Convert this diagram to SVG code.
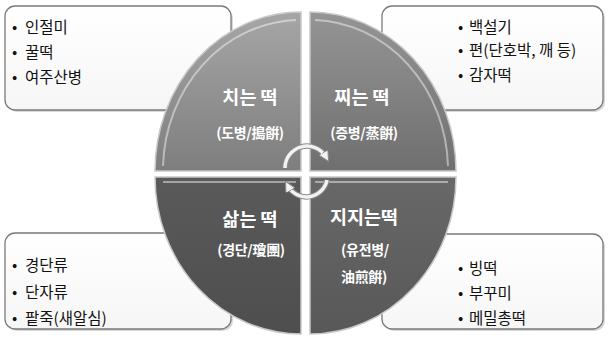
<svg xmlns="http://www.w3.org/2000/svg" width="608" height="341" viewBox="0 0 608 341">
<defs>
<style>
.box{fill:url(#boxg);stroke:#7a7a7a;stroke-width:1.3}
.shadow{fill:#d8d8d8}
.li{font-family:"Noto Sans CJK KR","Noto Sans",sans-serif;font-size:15.5px;fill:#111}
.hd{font-family:"Noto Sans CJK KR","Noto Sans CJK TC",sans-serif;font-size:18.5px;font-weight:bold;fill:#fff;text-anchor:middle}
.sb{font-family:"Noto Sans CJK KR","Noto Sans CJK TC",sans-serif;font-size:14px;font-weight:bold;fill:#fff;text-anchor:middle;letter-spacing:-0.3px}
.q{stroke:#c8c8c8;stroke-width:1.5}
.hl{fill:none;stroke:#fff;stroke-opacity:0.45;stroke-width:2}
.arc{fill:none;stroke:#f2f2f2;stroke-width:3.5}
.arcO{fill:none;stroke:#8a8a8a;stroke-width:5.5}
</style>
<linearGradient id="boxg" x1="0" y1="0" x2="0" y2="1"><stop offset="0" stop-color="#ffffff"/><stop offset="1" stop-color="#f6f6f6"/></linearGradient>
<linearGradient id="gTL" x1="0" y1="0" x2="0" y2="1"><stop offset="0" stop-color="#a6a6a6"/><stop offset="1" stop-color="#7e7e7e"/></linearGradient>
<linearGradient id="gTR" x1="0" y1="0" x2="0" y2="1"><stop offset="0" stop-color="#959595"/><stop offset="1" stop-color="#6f6f6f"/></linearGradient>
<linearGradient id="gBL" x1="0" y1="0" x2="0" y2="1"><stop offset="0" stop-color="#5a5a5a"/><stop offset="1" stop-color="#4e4e4e"/></linearGradient>
<linearGradient id="gBR" x1="0" y1="0" x2="0" y2="1"><stop offset="0" stop-color="#686868"/><stop offset="1" stop-color="#585858"/></linearGradient>
<marker id="ah" viewBox="0 0 10 10" refX="5" refY="5" markerWidth="3" markerHeight="3" orient="auto"><path d="M0,0 L10,5 L0,10 Z" fill="#f2f2f2" stroke="#8a8a8a" stroke-width="1"/></marker>
</defs>
<rect width="608" height="341" fill="#fff"/>

<g id="box-tl">
<rect class="shadow" x="7" y="8" width="226" height="104" rx="10"/>
<rect class="box" x="5" y="6" width="226" height="104" rx="10"/>
<text class="li" y="33"><tspan x="12">•</tspan><tspan x="25">인절미</tspan></text>
<text class="li" y="58"><tspan x="12">•</tspan><tspan x="25">꿀떡</tspan></text>
<text class="li" y="83"><tspan x="12">•</tspan><tspan x="25">여주산병</tspan></text>
</g>
<g id="box-tr">
<rect class="shadow" x="384" y="8" width="221" height="104" rx="10"/>
<rect class="box" x="382" y="6" width="221" height="104" rx="10"/>
<text class="li" y="33"><tspan x="458">•</tspan><tspan x="469">백설기</tspan></text>
<text class="li" y="56"><tspan x="458">•</tspan><tspan x="469">편(단호박, 깨 등)</tspan></text>
<text class="li" y="81"><tspan x="458">•</tspan><tspan x="469">감자떡</tspan></text>
</g>
<g id="box-bl">
<rect class="shadow" x="7" y="235" width="226" height="96" rx="10"/>
<rect class="box" x="5" y="233" width="226" height="96" rx="10"/>
<text class="li" y="271"><tspan x="12">•</tspan><tspan x="25">경단류</tspan></text>
<text class="li" y="298"><tspan x="12">•</tspan><tspan x="25">단자류</tspan></text>
<text class="li" y="324"><tspan x="12">•</tspan><tspan x="25">팥죽(새알심)</tspan></text>
</g>
<g id="box-br">
<rect class="shadow" x="384" y="236" width="221" height="95" rx="10"/>
<rect class="box" x="382" y="234" width="221" height="95" rx="10"/>
<text class="li" y="274"><tspan x="458">•</tspan><tspan x="469">빙떡</tspan></text>
<text class="li" y="299"><tspan x="458">•</tspan><tspan x="469">부꾸미</tspan></text>
<text class="li" y="324"><tspan x="458">•</tspan><tspan x="469">메밀총떡</tspan></text>
</g>

<g id="q-tl">
<path class="q" fill="url(#gTL)" d="M301,171 L155,171 A146,159 0 0 1 301,12 Z"/>
<path class="hl" d="M163,166 A138,151 0 0 1 296,20"/>
<text class="hd" x="250" y="104">치는 떡</text>
<text class="sb" x="250" y="138">(도병/搗餠)</text>
</g>
<g id="q-tr">
<path class="q" fill="url(#gTR)" d="M310,171 L310,12 A146,159 0 0 1 456,171 Z"/>
<path class="hl" d="M315,20 A138,151 0 0 1 448,166"/>
<text class="hd" x="362" y="104">찌는 떡</text>
<text class="sb" x="364" y="138">(증병/蒸餠)</text>
</g>
<g id="q-bl">
<path class="q" fill="url(#gBL)" d="M301,177 L301,334 A146,157 0 0 1 155,177 Z"/>
<path class="hl" d="M163,182 L296,182"/>
<text class="hd" x="250" y="226">삶는 떡</text>
<text class="sb" x="251" y="255">(경단/瓊團)</text>
</g>
<g id="q-br">
<path class="q" fill="url(#gBR)" d="M310,177 L456,177 A146,157 0 0 1 310,334 Z"/>
<path class="hl" d="M315,182 L448,182"/>
<text class="hd" x="364" y="224">지지는떡</text>
<text class="sb" x="365" y="255">(유전병/</text>
<text class="sb" x="364" y="282">油煎餠)</text>
</g>

<g id="connectors">
<path class="arcO" d="M285,168 A22,22 0 0 1 326,157"/>
<path class="arc" d="M285,168 A22,22 0 0 1 326,157" marker-end="url(#ah)"/>
<path class="arcO" d="M327,180 A21,21 0 0 1 288,186"/>
<path class="arc" d="M327,180 A21,21 0 0 1 288,186" marker-end="url(#ah)"/>
</g>
</svg>
